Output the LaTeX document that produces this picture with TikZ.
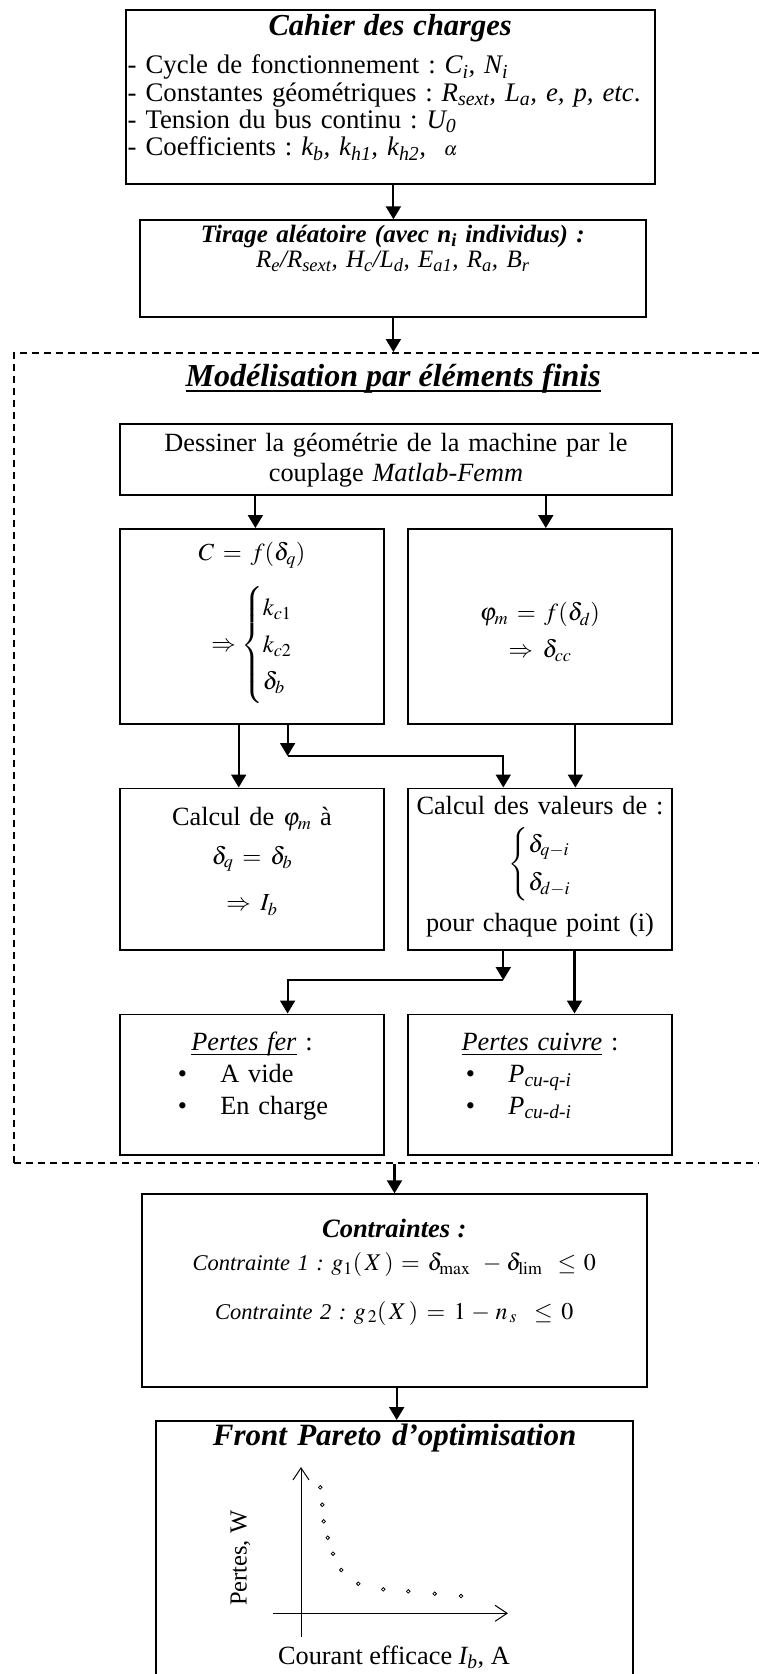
\documentclass[tikz,border=0pt]{standalone}
\usepackage{mathptmx}
\usepackage{fontspec}
\setmainfont{Liberation Serif}
\usetikzlibrary{arrows.meta}
\frenchspacing
\newcommand\sbs[1]{\textsubscript{#1}}
\newcommand\wul[1]{\setbox0\hbox{#1}\rlap{\rule[-0.17em]{\wd0}{0.06em}}\box0\relax}
\newcommand\bodyfont{\fontsize{26.3}{30.3}\selectfont}
\newcommand\itm[2]{\makebox[264pt][l]{\hspace*{58pt}\makebox[42.5pt][l]{\textbullet}#2}}
\tikzset{
  cbox/.style={draw,line width=1.9pt,inner sep=0pt,anchor=north west,align=center},
  dashbox/.style={draw,line width=2pt,dash pattern=on 7.5pt off 4.5pt,inner sep=0pt,anchor=north west},
  arr/.style={-{Triangle[length=13pt,width=15pt]},line width=2.1pt},
  axis/.style={-{Straight Barb[length=12pt,width=16pt]},line width=1pt},
  pnt/.style={line width=0.8pt},
}

\begin{document}
\begin{tikzpicture}[x=1pt,y=-1pt]
  \useasboundingbox (0,0) rectangle (759,1674);
  % cahier des charges + tirage
  \node[cbox,text width=529pt,text height=25.2pt,text depth=148.8pt,
    font={\fontsize{26.8}{27.33}\selectfont}] (cahier) at (124.7,9.3)
    {{\fontsize{30.5}{34}\selectfont\bfseries\itshape Cahier des charges}\\[11.2pt]
     \makebox[525pt][l]{- Cycle de fonctionnement : \textit{C\sbs{i}, N\sbs{i}}}\\
     \makebox[525pt][l]{- Constantes géométriques : \textit{R\sbs{sext}, L\sbs{a}, e, p, etc}.}\\
     \makebox[525pt][l]{- Tension du bus continu : \textit{U\sbs{0}}}\\
     \makebox[525pt][l]{- Coefficients : \textit{k\sbs{b}, k\sbs{h1}, k\sbs{h2},}\ \ {\fontsize{19}{19}\selectfont$\alpha$}}};
  \node[cbox,text width=506.1pt,text height=22.4pt,text depth=74.3pt,
    font={\fontsize{25}{25}\selectfont}] (tirage) at (138.8,219.3)
    {\textbf{\textit{Tirage aléatoire (avec n\sbs{i} individus) :}}\\
     \textit{R\sbs{e}/R\sbs{sext}, H\sbs{c}/L\sbs{d}, E\sbs{a1}, R\sbs{a}, B\sbs{r}}};
  % modelisation EF
  \node[dashbox,minimum width=760pt,minimum height=809.5pt] (fem) at (12.7,352) {};
  \node[anchor=base,font={\fontsize{32}{36}\selectfont\bfseries\itshape}] (femtitle) at (393.2,386.7)
    {\wul{Modélisation par éléments finis}};
  \node[cbox,text width=552pt,text height=28pt,text depth=43.3pt,font=\bodyfont] (dessiner) at (119,422.7)
    {Dessiner la géométrie de la machine par le\\ couplage \textit{Matlab-Femm}};
  \node[cbox,text width=264pt,text height=32pt,text depth=162.7pt,
    font={\fontsize{24.5}{30}\selectfont}] (cq) at (119,528)
    {$C = f(\delta_q)$\\[60.4pt]
     \smash{$\Rightarrow \left\{\def\arraystretch{1.24}\begin{array}{@{}l@{}} k_{c1}\\ k_{c2}\\ \delta_b\end{array}\right.$}};
  \node[cbox,text width=264pt,text height=92pt,text depth=102.7pt,
    font={\fontsize{24.5}{36.7}\selectfont}] (phid) at (407,528)
    {$\varphi_m = f(\delta_d)$\\ $\Rightarrow \delta_{cc}$};
  \node[cbox,text width=264pt,text height=37.5pt,text depth=124pt,
    font={\fontsize{26.3}{38.3}\selectfont}] (calcphi) at (119,787.5)
    {Calcul de {\fontsize{24.5}{38.3}\selectfont$\varphi_m$} à\\
     {\fontsize{24.5}{38.3}\selectfont$\delta_q = \delta_b$}\\[8.4pt]
     {\fontsize{24.5}{38.3}\selectfont$\Rightarrow I_b$}};
  \node[cbox,text width=264pt,text height=26pt,text depth=135.5pt,
    font={\fontsize{26.3}{30}\selectfont}] (valeurs) at (407,787.5)
    {Calcul des valeurs de :\\[25.5pt]
     \smash{\fontsize{24.5}{30}\selectfont$\left\{\def\arraystretch{1.28}\begin{array}{@{}l@{}}\delta_{q-i}\\ \delta_{d-i}\end{array}\right.$}\\[31.5pt]
     pour chaque point (i)};
  \node[cbox,text width=264pt,text height=36.5pt,text depth=104pt,
    font={\fontsize{26.3}{31.65}\selectfont}] (fer) at (119,1013.5)
    {\wul{\textit{Pertes fer}} :\\ \itm{}{A vide}\\ \itm{}{En charge}};
  \node[cbox,text width=264pt,text height=36.5pt,text depth=104pt,
    font={\fontsize{26.3}{31.65}\selectfont}] (cuivre) at (407,1013.5)
    {\wul{\textit{Pertes cuivre}} :\\ \itm{}{\textit{P\sbs{cu-q-i}}}\\ \itm{}{\textit{P\sbs{cu-d-i}}}};
  % contraintes + pareto
  \node[cbox,text width=505.3pt,text height=43.4pt,text depth=149.3pt,
    font={\fontsize{22.5}{33.3}\selectfont}] (contr) at (140.7,1193.3)
    {{\fontsize{26.5}{33.3}\selectfont\textbf{\textit{Contraintes :}}}\\
     \textit{Contrainte 1 :}\ {\fontsize{24}{24}\selectfont$g_{1}(\,X\,) = \delta_{\max}\; - \delta_{\lim}\; \le 0$}\\[15pt]
     \textit{Contrainte 2 :}\ {\fontsize{24}{24}\selectfont$g_{\,2}(\,X\,) = 1 - n_{\,s} \;\le 0$}};
  \node[cbox,text width=477.3pt,text height=24.3pt,text depth=240pt,
    font={\fontsize{31}{34}\selectfont\bfseries\itshape}] (pareto) at (155,1420)
    {Front Pareto d’optimisation};
  \draw[axis] (301,1637) -- (301,1467);
  \draw[axis] (273,1613.3) -- (508,1613.3);
  \foreach \px/\py in {320.3/1487.3,322.3/1504.7,323.7/1521.3,327.7/1537.7,333/1553.7,341.3/1570,
      358.3/1583.7,383.3/1589.3,408.3/1591.3,434.7/1593.7,461/1596}
    \draw[pnt] (\px,\py) circle (1.8);
  \node[rotate=90,anchor=base,font={\fontsize{24.5}{28}\selectfont}] (ylab) at (246.7,1558.3) {Pertes, W};
  \node[anchor=base,font=\bodyfont] (xlab) at (394,1664) {Courant efficace \textit{I\sbs{b}}, A};
  % liaisons
  \coordinate (j1) at (287.6,756);
  \coordinate (j2) at (503.3,980);
  \draw[arr] (cahier.south -| 393.4,0) -- (tirage.north -| 393.4,0);
  \draw[arr] (tirage.south -| 393.4,0) -- (fem.north -| 393.4,0);
  \draw[arr] (dessiner.south -| 255.4,0) -- (cq.north -| 255.4,0);
  \draw[arr] (dessiner.south -| 545.8,0) -- (phid.north -| 545.8,0);
  \draw[arr] (cq.south -| 238.7,0) -- (calcphi.north -| 238.7,0);
  \draw[arr] (cq.south -| 287.6,0) -- (j1);
  \draw[arr] (j1) -| (valeurs.north -| 503.3,0);
  \draw[arr] (phid.south -| 575.4,0) -- (valeurs.north -| 575.4,0);
  \draw[arr] (valeurs.south -| 503.3,0) -- (j2);
  \draw[arr] (j2) -| (fer.north -| 287.6,0);
  \draw[arr] (valeurs.south -| 574.5,0) -- (cuivre.north -| 574.5,0);
  \draw[arr] (fem.south -| 394.5,0) -- (contr.north -| 394.5,0);
  \draw[arr] (contr.south -| 396.7,0) -- (pareto.north -| 396.7,0);
\end{tikzpicture}
\end{document}
